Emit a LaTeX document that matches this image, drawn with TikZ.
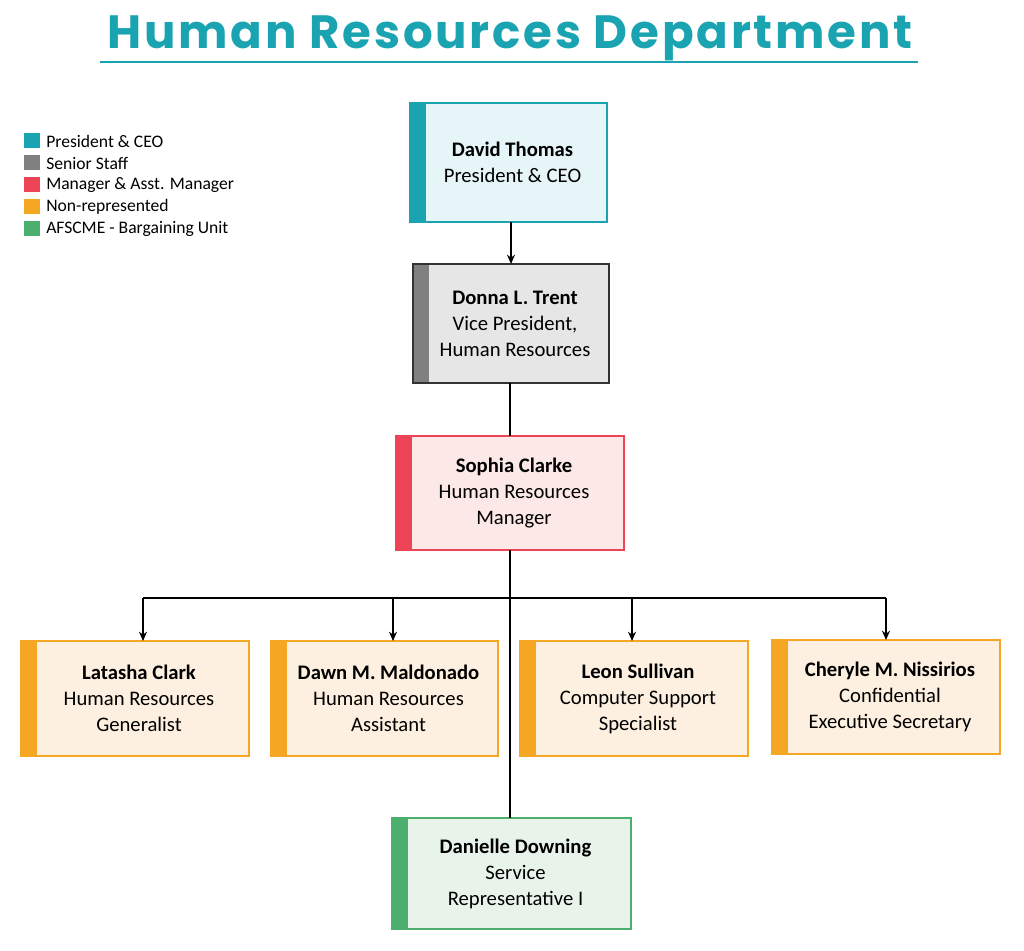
\documentclass[tikz,border=0pt]{standalone}
\usepackage{fontspec}
\setmainfont{Carlito}
\newfontfamily\titlefont[LetterSpace=6]{Poppins}
\usetikzlibrary{arrows.meta}
\definecolor{teal1}{HTML}{1AA3B0}
\definecolor{tealf}{HTML}{E6F5F8}
\definecolor{gray1}{HTML}{808080}
\definecolor{grayf}{HTML}{E6E6E6}
\definecolor{red1}{HTML}{EE4458}
\definecolor{redf}{HTML}{FDE8E8}
\definecolor{org1}{HTML}{F5A623}
\definecolor{orgf}{HTML}{FEF0E0}
\definecolor{grn1}{HTML}{4CAF6E}
\definecolor{grnf}{HTML}{E8F4EA}
\tikzset{
  conn/.style={draw=black, line width=1pt},
  arr/.style={conn, -{Stealth[length=7pt,width=6pt]}},
  lbl/.style={align=center, font=\fontsize{15.5}{19.5}\selectfont, text=black},
  legtxt/.style={anchor=west, font=\fontsize{13.2}{14}\selectfont, inner sep=0pt},
}
\newcommand{\orgbox}[9]{%
  \fill[#7] (#2,#3) rectangle (#4,#5);
  \fill[#8] (#2,#3) rectangle ({#2+16},#5);
  \draw[#6, line width=1.3pt] (#2,#3) rectangle (#4,#5);
  \node[lbl] (#1) at ({(#2+8+#4)/2},{(#3+#5)/2}) {#9};
}
\begin{document}
\begin{tikzpicture}[x=0.75pt,y=-0.75pt]
\useasboundingbox (0,0) rectangle (1024,950);
\node[text=teal1, font=\titlefont\bfseries\fontsize{35}{40}\selectfont] (title) at (510,38) {Human Resources Department};
\draw[teal1, line width=1.5pt] (100,62) -- (918,62);
\foreach \c/\t [count=\i from 0] in {teal1/President \& CEO, gray1/Senior Staff, red1/Manager \& Asst. Manager, org1/Non-represented, grn1/AFSCME - Bargaining Unit}{
  \fill[\c] (24,{133+22*\i}) rectangle (40,{148+22*\i});
  \node[legtxt] (leg\i) at (46,{141+22*\i}) {\t};
}
\orgbox{dt}{410}{103}{607}{222}{teal1}{tealf}{teal1}{\textbf{David Thomas}\\President \& CEO}
\orgbox{dlt}{413}{264}{609}{383}{black!80}{grayf}{gray1}{\textbf{Donna L. Trent}\\Vice President,\\Human Resources}
\orgbox{sc}{396}{436}{624}{550}{red1}{redf}{red1}{\textbf{Sophia Clarke}\\Human Resources\\Manager}
\orgbox{lc}{21}{641}{249}{756}{org1}{orgf}{org1}{\textbf{Latasha Clark}\\Human Resources\\Generalist}
\orgbox{dm}{271}{641}{498}{756}{org1}{orgf}{org1}{\textbf{Dawn M. Maldonado}\\Human Resources\\Assistant}
\orgbox{ls}{520}{641}{748}{756}{org1}{orgf}{org1}{\textbf{Leon Sullivan}\\Computer Support\\Specialist}
\orgbox{cn}{772}{640}{1000}{754}{org1}{orgf}{org1}{\textbf{Cheryle M. Nissirios}\\Confidential\\Executive Secretary}
\orgbox{dd}{392}{818}{631}{929}{grn1}{grnf}{grn1}{\textbf{Danielle Downing}\\Service\\Representative I}
\draw[arr] (511,222) -- (511,264);
\draw[conn] (510,383) -- (510,436);
\draw[conn] (510,550) -- (510,818);
\draw[conn] (143,598) -- (886,598);
\draw[arr] (143,598) -- (143,641);
\draw[arr] (393,598) -- (393,641);
\draw[arr] (632,598) -- (632,641);
\draw[arr] (886,598) -- (886,640);
\end{tikzpicture}
\end{document}
